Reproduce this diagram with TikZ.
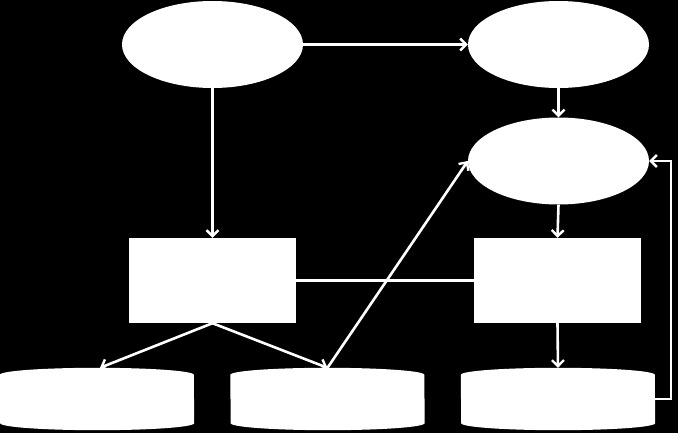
\documentclass[tikz,border=0pt]{standalone}
\usetikzlibrary{arrows.meta,shapes.geometric}
\begin{document}
\begin{tikzpicture}[x=1pt,y=-1pt,
  oval/.style={ellipse,fill=white,draw=none,inner sep=0pt,minimum width=181pt,minimum height=87pt},
  box/.style={rectangle,fill=white,draw=none,inner sep=0pt,minimum width=167pt,minimum height=85pt},
  cyl/.style={rectangle,draw=none,inner sep=0pt,minimum width=194pt,minimum height=62pt},
  conn/.style={draw=white,line width=2.6pt,-{Straight Barb[length=6pt,width=12pt,line width=2.4pt]}},
  plain/.style={draw=white,line width=2.6pt}]
\fill[black] (0,0) rectangle (678,433);
\useasboundingbox (0,0) rectangle (678,433);
\node[oval] (A) at (212.5,44.5) {};
\node[oval] (B) at (558.5,44.5) {};
\node[oval] (C) at (558.5,161) {};
\node[box] (D) at (212.5,280.5) {};
\node[box] (E) at (557.5,280.5) {};
\node[cyl] (K1) at (97,399) {};
\node[cyl] (K2) at (327.5,399) {};
\node[cyl] (K3) at (558,399) {};
\foreach \k in {K1,K2,K3}{
  \fill[white] ([yshift=-7pt]\k.north west) arc[start angle=180,end angle=360,x radius=97,y radius=7]
    -- ([yshift=7pt]\k.south east) arc[start angle=0,end angle=180,x radius=97,y radius=7] -- cycle;
}
\draw[conn] (A.east) -- (B.west);
\draw[conn] (B.south) -- (C.north);
\draw[conn] (A.south) -- (D.north);
\draw[conn] (C.south) -- (E.north);
\draw[conn] (E.south) -- (K3.north);
\draw[plain] (D.east) -- (E.west);
\draw[conn] (D.south) -- ([xshift=3pt]K1.north);
\draw[conn] (D.south) -- (K2.north);
\draw[conn] (K2.north) -- (C.west);
\coordinate (R) at (671,399);
\draw[conn] (K3.east) -- (R) |- (C.east);
\end{tikzpicture}
\end{document}
